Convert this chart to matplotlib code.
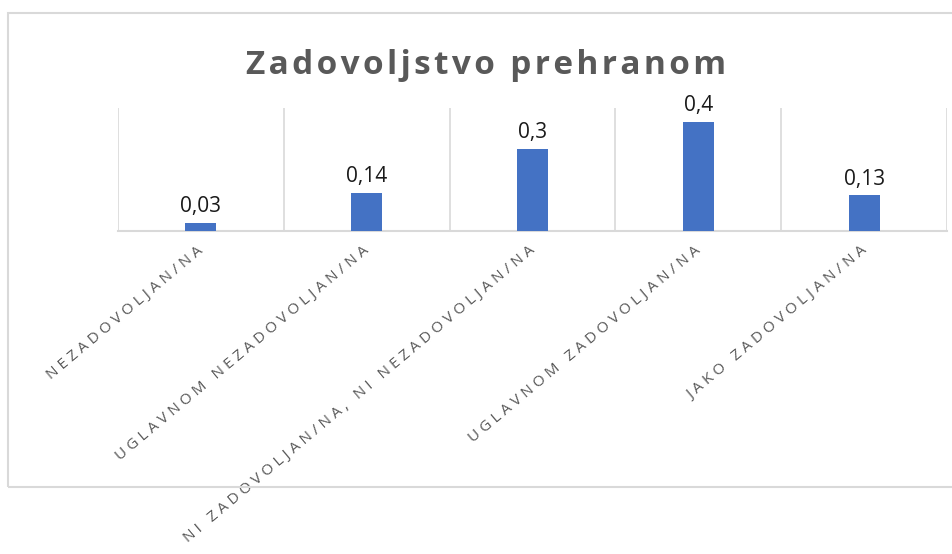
import matplotlib
matplotlib.use("Agg")
import matplotlib.pyplot as plt
from matplotlib.patches import Rectangle
import matplotlib.transforms as mtransforms

categories = [
    "NEZADOVOLJAN/NA",
    "UGLAVNOM NEZADOVOLJAN/NA",
    "NI ZADOVOLJAN/NA, NI NEZADOVOLJAN/NA",
    "UGLAVNOM ZADOVOLJAN/NA",
    "JAKO ZADOVOLJAN/NA",
]
values = [0.03, 0.14, 0.3, 0.4, 0.13]
value_labels = ["0,03", "0,14", "0,3", "0,4", "0,13"]
title = "Zadovoljstvo prehranom"


def spaced(s, sep):
    # emulate letter spacing
    return sep.join(s)


W, H = 953, 554
fig = plt.figure(figsize=(W / 100, H / 100), dpi=100)
fig.patch.set_facecolor("white")

# outer chart border
fig.patches.append(Rectangle((8 / W, 1 - 486.5 / H), (970 - 8) / W, (486.5 - 13) / H,
                             transform=fig.transFigure, fill=False,
                             edgecolor="#d9d9d9", linewidth=1.5, zorder=0))

left, right, top, bottom = 118, 947, 108, 231
ax = fig.add_axes([left / W, 1 - bottom / H, (right - left) / W, (bottom - top) / H])
x = list(range(len(categories)))
ax.bar(x, values, width=0.186, color="#4472C4", zorder=3)
ax.set_xlim(-0.5, len(categories) - 0.5)
ax.set_ylim(0, 0.45)
for i in range(len(categories) + 1):
    ax.axvline(i - 0.5, color="#d9d9d9", linewidth=1.2, zorder=1)
for s in ["top", "right", "left"]:
    ax.spines[s].set_visible(False)
ax.spines["bottom"].set_color("#d9d9d9")
ax.spines["bottom"].set_linewidth(1.5)
ax.set_yticks([])
ax.set_xticks([])

for xi, v, lab in zip(x, values, value_labels):
    ax.annotate(lab, (xi, v), xytext=(0, 4), textcoords="offset points",
                ha="center", va="bottom", fontsize=15, color="#1a1a1a",
                family="Open Sans")

lab_tr = (mtransforms.blended_transform_factory(ax.transData, ax.transAxes)
          + mtransforms.Affine2D().translate(-4, -12))
for xi, cat in zip(x, categories):
    ax.text(xi, 0, spaced(cat, "\u2009\u200a"), transform=lab_tr,
            rotation=40, rotation_mode="anchor", ha="right", va="top",
            fontsize=11.1, color="#595959", family=["Open Sans", "DejaVu Sans"],
            clip_on=False)

fig.text(486.5 / W, 1 - 66 / H, spaced(title, "\u200a"), ha="center", va="center",
         fontsize=24, fontweight="bold", color="#595959",
         family=["Open Sans", "DejaVu Sans"])

fig.savefig("out.png", dpi=100)
